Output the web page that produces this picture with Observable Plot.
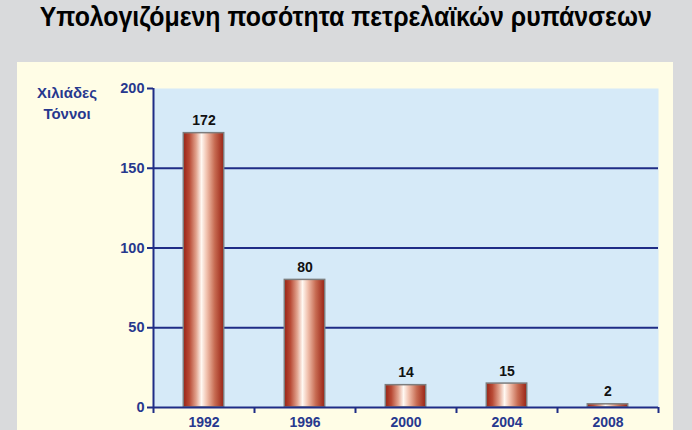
<!DOCTYPE html>
<html>
<head>
<meta charset="utf-8">
<script src="https://cdn.jsdelivr.net/npm/d3@7"></script>
<script src="https://cdn.jsdelivr.net/npm/@observablehq/plot@0.6"></script>
<style>
  html, body { margin: 0; padding: 0; }
  body { width: 692px; height: 430px; background: #d9dadc; position: relative; overflow: hidden; font-family: "Liberation Sans", Arial, sans-serif; }
  #title { position: absolute; left: 0; top: -1px; width: 692px; text-align: center; font-family: "Liberation Sans Narrow", "Liberation Sans", Arial, sans-serif; font-weight: bold; font-size: 28px; line-height: 36px; color: #000; white-space: nowrap; }
  #title span { display: inline-block; transform-origin: center; }
  #panel { position: absolute; left: 17px; top: 62px; width: 656px; height: 380px; background: #fffde6; }
  #ylabel { position: absolute; left: 17px; top: 82px; width: 100px; text-align: center; font-weight: bold; font-size: 15px; line-height: 21px; color: #27388e; }
  #chart { position: absolute; left: 17px; top: 62px; }
</style>
</head>
<body>
<div id="title"><span id="titleText">Υπολογιζόμενη ποσότητα πετρελαϊκών ρυπάνσεων</span></div>
<div id="panel"></div>
<div id="ylabel">Χιλιάδες<br>Τόννοι</div>
<div id="chart"></div>
<script>
const years = ["1992", "1996", "2000", "2004", "2008"];
const values = [172, 80, 14, 15, 2];
const yTicks = [0, 50, 100, 150, 200];
const gridValues = [50, 100, 150];

const navy = "#1f2c86";
const data = years.map((year, i) => ({year, i, value: values[i]}));

const svg = Plot.plot({
  width: 656,
  height: 368,
  marginLeft: 136,
  marginRight: 15,
  marginTop: 26,
  marginBottom: 23,
  style: {background: "transparent", color: navy, fontFamily: "'Liberation Sans', Arial, sans-serif", overflow: "visible"},
  x: {domain: [0, 5]},
  y: {domain: [0, 200]},
  marks: [
    Plot.frame({fill: "#d6eaf8", stroke: null}),
    Plot.ruleY(gridValues, {stroke: navy, strokeWidth: 2}),
    Plot.rectY(data, {x1: d => d.i + 0.3, x2: d => d.i + 0.7, y1: 0, y2: "value", fill: "url(#barGrad)", stroke: "#7d7d7d", strokeWidth: 1.5}),
    Plot.ruleY([0], {stroke: navy, strokeWidth: 2}),
    Plot.ruleX([0], {stroke: navy, strokeWidth: 2}),
    Plot.axisY({ticks: yTicks, tickSize: 6, tickPadding: 3, strokeWidth: 2, label: null, fontSize: 14.5, fontWeight: "bold", fill: "#27388e", tickFormat: d => String(d)}),
    Plot.axisX({ticks: [0, 1, 2, 3, 4, 5], tickSize: 6, strokeWidth: 2, tickFormat: () => "", label: null}),
    Plot.axisX({ticks: years.map((_, i) => i + 0.5), tickSize: 0, tickPadding: 10, tickFormat: v => years[Math.floor(v)], label: null, fontSize: 14, fontWeight: "bold", fill: "#27388e"}),
    Plot.text(data, {x: d => d.i + 0.5, y: "value", text: d => String(d.value), dy: -8, lineAnchor: "bottom", fontWeight: "bold", fontSize: 14, fill: "#111"})
  ]
});

const defs = d3.select(svg).insert("defs", ":first-child");
const g = defs.append("linearGradient").attr("id", "barGrad").attr("x1", "0%").attr("x2", "100%").attr("y1", "0%").attr("y2", "0%");
[["0%", "#9a2214"], ["15%", "#b84a35"], ["32%", "#e2a48f"], ["45%", "#fff8f2"], ["58%", "#f1c1ae"], ["78%", "#c66a51"], ["100%", "#9a2214"]]
  .forEach(([o, c]) => g.append("stop").attr("offset", o).attr("stop-color", c));

document.getElementById("chart").appendChild(svg);

// fit title width to reference (~612px)
const t = document.getElementById("titleText");
const w = t.getBoundingClientRect().width;
t.style.transform = `scaleX(${612 / w})`;
</script>
</body>
</html>
